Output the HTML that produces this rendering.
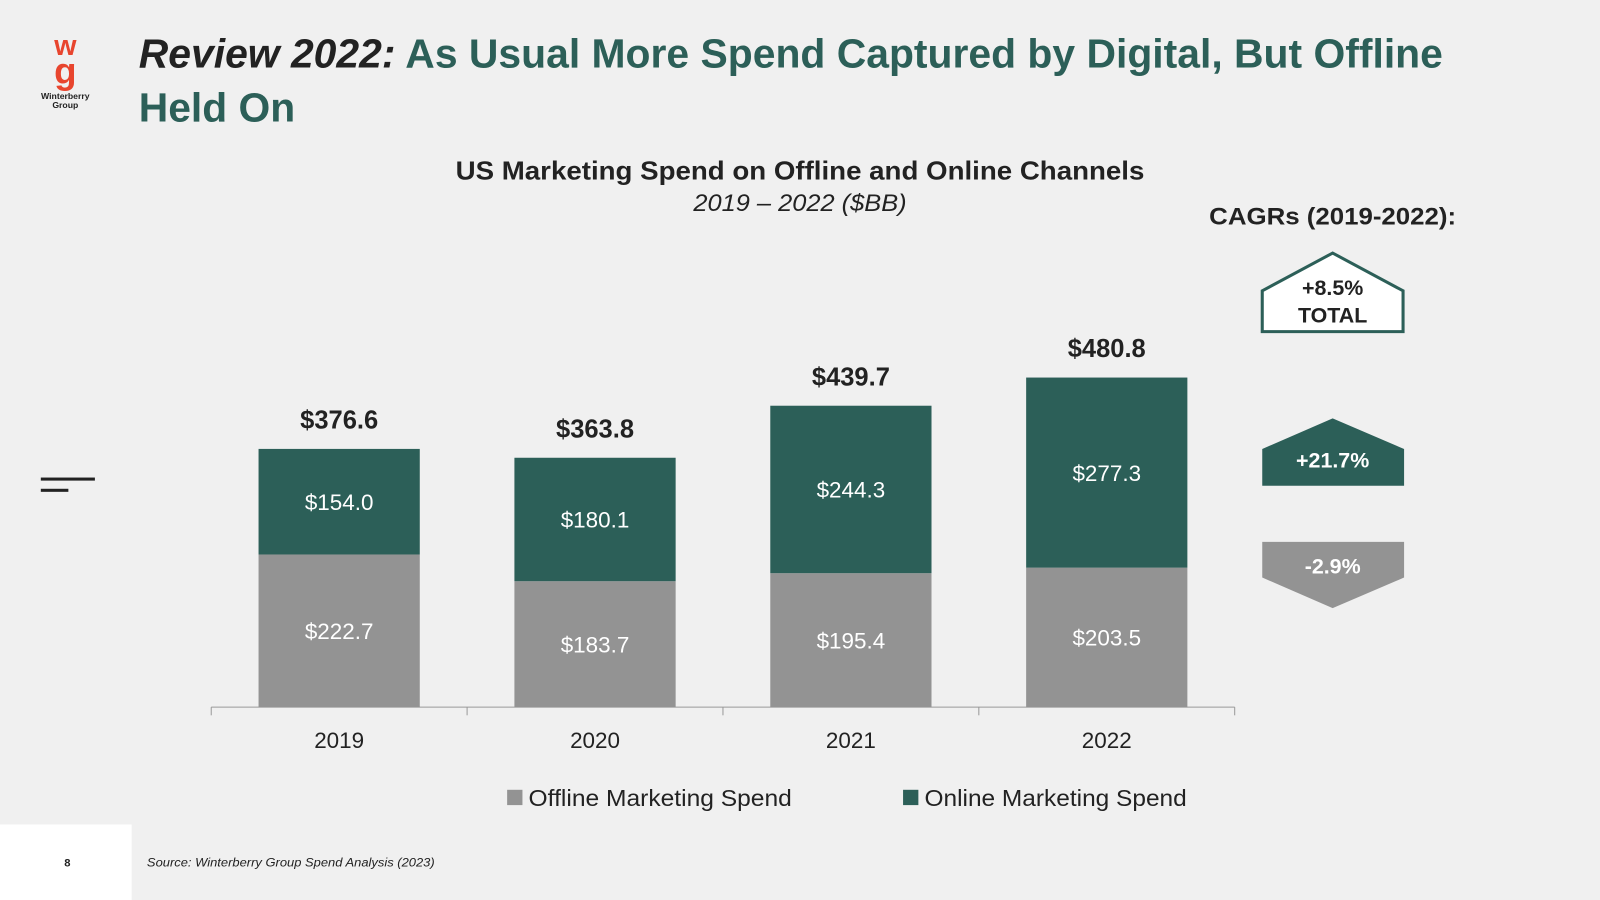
<!DOCTYPE html>
<html><head><meta charset="utf-8"><style>
html,body{margin:0;padding:0;background:#f0f0f0;}
svg{display:block;font-family:"Liberation Sans","DejaVu Sans",sans-serif;}
</style></head><body>
<svg width="1600" height="900" viewBox="0 0 1568 882" xmlns="http://www.w3.org/2000/svg">
<rect x="0" y="0" width="1568" height="882" fill="#f0f0f0"/>
<g>
<text x="64" y="54" text-anchor="middle" font-size="28" font-weight="bold" fill="#e8452e">w</text>
<text x="64" y="82" text-anchor="middle" font-size="36" font-weight="bold" fill="#e8452e">g</text>
<text x="64" y="97" text-anchor="middle" font-size="8.5" font-weight="bold" fill="#222">Winterberry</text>
<text x="64" y="106" text-anchor="middle" font-size="8.5" font-weight="bold" fill="#222">Group</text>
</g>
<text x="136" y="66" font-size="40" font-weight="bold" fill="#2c5f58" textLength="1278" lengthAdjust="spacingAndGlyphs"><tspan fill="#222" font-style="italic">Review 2022:</tspan> As Usual More Spend Captured by Digital, But Offline</text>
<text x="136" y="119" font-size="40" font-weight="bold" fill="#2c5f58">Held On</text>
<text x="784" y="176" text-anchor="middle" font-size="25" font-weight="bold" fill="#222" textLength="675" lengthAdjust="spacingAndGlyphs">US Marketing Spend on Offline and Online Channels</text>
<text x="784" y="207" text-anchor="middle" font-size="24" font-style="italic" fill="#222" textLength="209" lengthAdjust="spacingAndGlyphs">2019 – 2022 ($BB)</text>
<rect x="40" y="468" width="53" height="3" fill="#222"/>
<rect x="40" y="479" width="27" height="3" fill="#222"/>
<g id="chart"></g>
<g>
<rect x="497" y="774" width="15" height="15" fill="#939393"/>
<text x="518" y="790" font-size="23" fill="#222" textLength="258" lengthAdjust="spacingAndGlyphs">Offline Marketing Spend</text>
<rect x="885" y="774" width="15" height="15" fill="#2c5f58"/>
<text x="906" y="790" font-size="23" fill="#222" textLength="257" lengthAdjust="spacingAndGlyphs">Online Marketing Spend</text>
</g>
<text x="1306" y="220" text-anchor="middle" font-size="24" font-weight="bold" fill="#222" textLength="242" lengthAdjust="spacingAndGlyphs">CAGRs (2019-2022):</text>
<g>
<polygon points="1237,285 1306,248 1375,285 1375,325 1237,325" fill="#fff" stroke="#2c5f58" stroke-width="3"/>
<text x="1306" y="289" text-anchor="middle" font-size="21" font-weight="bold" fill="#222">+8.5%</text>
<text x="1306" y="316" text-anchor="middle" font-size="21" font-weight="bold" fill="#222">TOTAL</text>
</g>
<g>
<polygon points="1237,440 1306,410 1376,440 1376,476 1237,476" fill="#2c5f58"/>
<text x="1306" y="458" text-anchor="middle" font-size="21" font-weight="bold" fill="#fff">+21.7%</text>
</g>
<g>
<polygon points="1237,531 1376,531 1376,566 1306,596 1237,566" fill="#939393"/>
<text x="1306" y="562" text-anchor="middle" font-size="21" font-weight="bold" fill="#fff">-2.9%</text>
</g>
<rect x="0" y="808" width="129" height="74" fill="#fff"/>
<text x="66" y="849" text-anchor="middle" font-size="11" font-weight="bold" fill="#222">8</text>
<text x="144" y="849" font-size="12" font-style="italic" fill="#222" textLength="282" lengthAdjust="spacingAndGlyphs">Source: Winterberry Group Spend Analysis (2023)</text>
</svg>
<script>
const years = ["2019","2020","2021","2022"];
const offline = [222.7,183.7,195.4,203.5];
const online = [154.0,180.1,244.3,277.3];
const totals = [376.6,363.8,439.7,480.8];

const NS="http://www.w3.org/2000/svg";
const g=document.getElementById('chart');
const baseY=693, scale=323/480.8, left=207, step=250.75, barW=158;
const y=v=>baseY-v*scale;
const xc=i=>left+step*(i+0.5);
function mk(tag,attrs,txt){const e=document.createElementNS(NS,tag);for(const k in attrs)e.setAttribute(k,attrs[k]);if(txt!==undefined)e.textContent=txt;g.appendChild(e);return e;}
const axis=mk('line',{x1:left,x2:left+step*years.length,y1:baseY,y2:baseY,stroke:'#999','stroke-width':1});


for(let i=0;i<=years.length;i++){
  const t=mk('line',{x1:left+step*i,x2:left+step*i,y1:baseY,y2:baseY+8,stroke:'#999','stroke-width':1});
  
  
}
years.forEach((yr,i)=>{
  const cx=xc(i), x0=cx-barW/2;
  const b1=mk('rect',{x:x0,y:y(offline[i]),width:barW,height:offline[i]*scale,fill:'#939393'});
  
  
  const top=offline[i]+online[i];
  const b2=mk('rect',{x:x0,y:y(top),width:barW,height:online[i]*scale,fill:'#2c5f58'});
  
  
  const l1=mk('text',{x:cx,y:(y(offline[i])+baseY)/2+8,'text-anchor':'middle','font-size':22,fill:'#fff'},'$'+offline[i].toFixed(1));
  
  
  const l2=mk('text',{x:cx,y:(y(top)+y(offline[i]))/2+8,'text-anchor':'middle','font-size':22,fill:'#fff'},'$'+online[i].toFixed(1));
  
  
  const lt=mk('text',{x:cx,y:y(totals[i])-20,'text-anchor':'middle','font-size':25,'font-weight':'bold',fill:'#222'},'$'+totals[i].toFixed(1));
  
  
  const xl=mk('text',{x:cx,y:733,'text-anchor':'middle','font-size':22,fill:'#222'},yr);
  
  
});
</script>
</body></html>
